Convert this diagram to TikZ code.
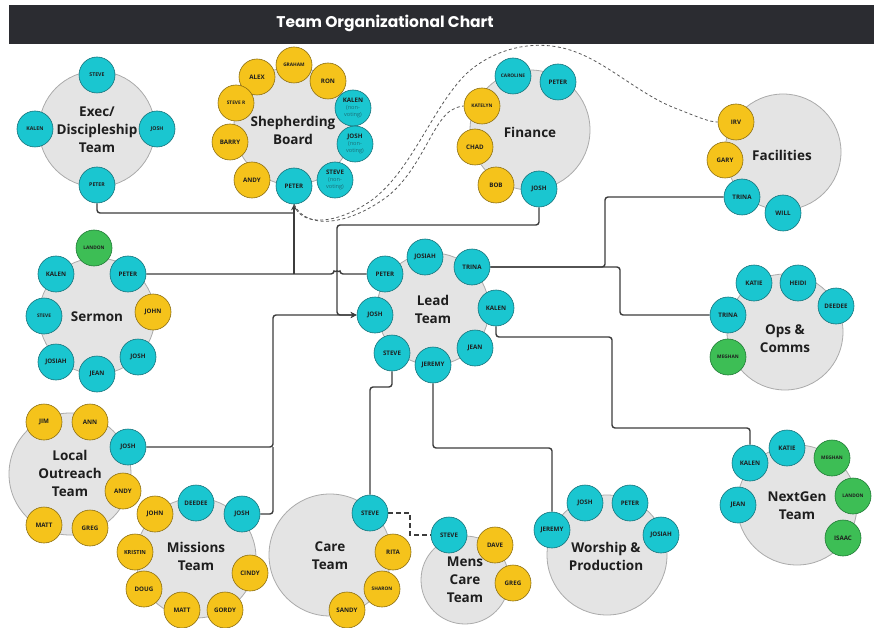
\documentclass[tikz,border=0pt]{standalone}
\usepackage{fontspec}
\setmainfont{Open Sans}
\newfontfamily\titlefont{Poppins}
\usetikzlibrary{arrows.meta}
\definecolor{barc}{HTML}{2B2C31}
\definecolor{teamfill}{HTML}{E4E4E4}
\definecolor{teamedge}{HTML}{ABABAB}
\definecolor{cyf}{HTML}{1AC6D0}
\definecolor{cyd}{HTML}{16727A}
\definecolor{yef}{HTML}{F5C31B}
\definecolor{yed}{HTML}{8C6E12}
\definecolor{grf}{HTML}{3DBE55}
\definecolor{grd}{HTML}{1F7A35}
\definecolor{linec}{HTML}{3C3C3C}
\definecolor{nvc}{HTML}{1B6F77}
\definecolor{txt}{HTML}{1E1E1E}
\pgfdeclarelayer{bgl}
\pgfdeclarelayer{teams}
\pgfdeclarelayer{lines}
\pgfsetlayers{bgl,teams,lines,main}
\newcommand{\nv}{\normalfont\fontsize{5.6}{7}\selectfont\color{nvc}}
\tikzset{
  team/.style={circle, fill=teamfill, draw=teamedge, line width=0.8pt, inner sep=0pt, minimum size=#1},
  tlabel/.style={font=\bfseries\fontsize{13.5}{18}\selectfont, text=txt, align=center, inner sep=0pt},
  pp/.style={circle, minimum size=36pt, inner sep=0pt, line width=0.6pt, text=txt,
             font=\bfseries\fontsize{6.2}{7.2}\selectfont, align=center},
  cy/.style={pp, fill=cyf, draw=cyd},
  ye/.style={pp, fill=yef, draw=yed},
  gr/.style={pp, fill=grf, draw=grd},
  sm/.style={font=\bfseries\fontsize{4.8}{6}\selectfont},
  conn/.style={draw=linec, line width=1.4pt, rounded corners=3pt},
  arr/.style={-{Stealth[length=6pt,width=6pt]}},
  dsh/.style={draw=linec!85, line width=0.8pt, dash pattern=on 3pt off 2.5pt},
  dsh2/.style={draw=linec, line width=1.3pt, dash pattern=on 4.5pt off 3.5pt}
}
\begin{document}
\begin{tikzpicture}[x=1pt,y=-1pt]
\useasboundingbox (0,0) rectangle (874,628);
\begin{pgfonlayer}{bgl}
\fill[white] (0,0) rectangle (874,628);
\end{pgfonlayer}
% title bar
\node[fill=barc, minimum width=865pt, minimum height=39pt, inner sep=0pt, anchor=north west] (bar) at (9,5) {};
\node[text=white, font=\titlefont\bfseries\fontsize{15.5}{18}\selectfont] (title) at (385,23) {Team Organizational Chart};

% team circles
\begin{pgfonlayer}{teams}
\node[team=116pt] (exec) at (97,129) {};
\node[team=118pt] (shep) at (293,126) {};
\node[team=120pt] (fin) at (530,130) {};
\node[team=116pt] (fac) at (783,152) {};
\node[team=116pt] (serm) at (97,316) {};
\node[team=112pt] (lead) at (433,309) {};
\node[team=116pt] (ops) at (785,332) {};
\node[team=122pt] (lout) at (70,474) {};
\node[team=120pt] (miss) at (196,558) {};
\node[team=122pt] (care) at (330,555) {};
\node[team=88pt] (mens) at (465,580) {};
\node[team=120pt] (wors) at (607,555) {};
\node[team=120pt] (nextg) at (797,505) {};
\end{pgfonlayer}

% team labels
\node[tlabel] (execL) at (97,130) {Exec/\\Discipleship\\Team};
\node[tlabel] (shepL) at (293,130) {Shepherding\\Board};
\node[tlabel] (finL) at (530,132) {Finance};
\node[tlabel] (facL) at (782,155) {Facilities};
\node[tlabel] (sermL) at (97,317) {Sermon};
\node[tlabel] (leadL) at (433,309) {Lead\\Team};
\node[tlabel] (opsL) at (785,339) {Ops \&\\Comms};
\node[tlabel] (loutL) at (70,473) {Local\\Outreach\\Team};
\node[tlabel] (missL) at (196,556) {Missions\\Team};
\node[tlabel] (careL) at (330,556) {Care\\Team};
\node[tlabel] (mensL) at (465,580) {Mens\\Care\\Team};
\node[tlabel] (worsL) at (606,556) {Worship \&\\Production};
\node[tlabel] (nextgL) at (797,506) {NextGen\\Team};

% Exec
\node[cy] (exSteve) at (97,75) {\fontsize{5.2}{6}\selectfont STEVE};
\node[cy] (exKalen) at (35,129) {\fontsize{5.2}{6}\selectfont KALEN};
\node[cy] (exJosh) at (157,129) {\fontsize{5.2}{6}\selectfont JOSH};
\node[cy] (exPeter) at (97,185) {\fontsize{5.2}{6}\selectfont PETER};
% Shepherding
\node[ye,sm] (spGraham) at (294,65) {GRAHAM};
\node[ye] (spAlex) at (257,77) {ALEX};
\node[ye] (spRon) at (328,81) {RON};
\node[ye,sm] (spSteveR) at (236,103) {STEVE R};
\node[cy] (spKalen) at (353,108) {KALEN\\{\nv(non-}\\{\nv voting)}};
\node[ye] (spBarry) at (230,142) {BARRY};
\node[cy] (spJosh) at (355,144) {JOSH\\{\nv(non-}\\{\nv voting)}};
\node[ye] (spAndy) at (252,180) {ANDY};
\node[cy] (spPeter) at (294,186) {PETER};
\node[cy] (spSteve) at (335,180) {STEVE\\{\nv(non-}\\{\nv voting)}};
% Finance
\node[cy,sm] (fiCaroline) at (513,76) {CAROLINE};
\node[cy] (fiPeter) at (558,82) {PETER};
\node[ye,sm] (fiKatelyn) at (482,106) {KATELYN};
\node[ye] (fiChad) at (475,147) {CHAD};
\node[ye] (fiBob) at (496,185) {BOB};
\node[cy] (fiJosh) at (539,189) {JOSH};
% Facilities
\node[ye] (faIrv) at (736,122) {IRV};
\node[ye] (faGary) at (725,160) {GARY};
\node[cy] (faTrina) at (742,197) {TRINA};
\node[cy] (faWill) at (783,213) {WILL};
% Sermon
\node[gr,sm] (seLandon) at (94,248) {LANDON};
\node[cy] (seKalen) at (56,274) {KALEN};
\node[cy] (sePeter) at (128,274) {PETER};
\node[cy,sm] (seSteve) at (44,316) {STEVE};
\node[ye] (seJohn) at (153,312) {JOHN};
\node[cy] (seJosiah) at (56,362) {JOSIAH};
\node[cy] (seJean) at (97,374) {JEAN};
\node[cy] (seJosh) at (138,357) {JOSH};
% Lead
\node[cy] (ldJosiah) at (425,257) {JOSIAH};
\node[cy] (ldPeter) at (385,274) {PETER};
\node[cy] (ldTrina) at (472,267) {TRINA};
\node[cy] (ldKalen) at (496,308) {KALEN};
\node[cy] (ldJosh) at (375,315) {JOSH};
\node[cy] (ldSteve) at (392,353) {STEVE};
\node[cy] (ldJeremy) at (433,365) {JEREMY};
\node[cy] (ldJean) at (475,348) {JEAN};
% Ops
\node[cy] (opKatie) at (754,283) {KATIE};
\node[cy] (opHeidi) at (798,283) {HEIDI};
\node[cy] (opDeedee) at (836,306) {DEEDEE};
\node[cy] (opTrina) at (728,315) {TRINA};
\node[gr,sm] (opMeghan) at (728,357) {MEGHAN};
% Local outreach
\node[ye] (loJim) at (44,422) {JIM};
\node[ye] (loAnn) at (90,422) {ANN};
\node[cy] (loJosh) at (128,447) {JOSH};
\node[ye] (loAndy) at (123,491) {ANDY};
\node[ye] (loMatt) at (44,525) {MATT};
\node[ye] (loGreg) at (90,528) {GREG};
% Missions
\node[ye] (miJohn) at (155,514) {JOHN};
\node[cy] (miDeedee) at (196,503) {DEEDEE};
\node[cy] (miJosh) at (242,514) {JOSH};
\node[ye] (miKristin) at (135,552) {\fontsize{5.6}{6}\selectfont KRISTIN};
\node[ye] (miCindy) at (250,573) {CINDY};
\node[ye] (miDoug) at (144,589) {DOUG};
\node[ye] (miMatt) at (182,610) {MATT};
\node[ye] (miGordy) at (225,610) {GORDY};
% Care
\node[cy] (caSteve) at (370,513) {STEVE};
\node[ye] (caRita) at (393,552) {RITA};
\node[ye,sm] (caSharon) at (382,589) {SHARON};
\node[ye] (caSandy) at (347,610) {SANDY};
% Mens care
\node[cy] (mcSteve) at (449,535) {STEVE};
\node[ye] (mcDave) at (495,545) {DAVE};
\node[ye] (mcGreg) at (513,583) {GREG};
% Worship
\node[cy] (woJeremy) at (552,530) {JEREMY};
\node[cy] (woJosh) at (585,503) {JOSH};
\node[cy] (woPeter) at (630,503) {PETER};
\node[cy] (woJosiah) at (661,535) {JOSIAH};
% NextGen
\node[cy] (ngKatie) at (787,448) {KATIE};
\node[cy] (ngKalen) at (750,463) {KALEN};
\node[gr,sm] (ngMeghan) at (832,458) {MEGHAN};
\node[gr,sm] (ngLandon) at (853,496) {LANDON};
\node[cy] (ngJean) at (738,505) {JEAN};
\node[gr] (ngIsaac) at (843,538) {ISAAC};

% connectors
\begin{pgfonlayer}{lines}
\coordinate (jSp) at (spPeter.south |- sePeter.east);
\draw[conn] (exPeter.south) |- (jSp |- 0,213);
\draw[conn] (sePeter.east) -- (334,274) arc[start angle=180, end angle=360, radius=3] -- (ldPeter.west);
\draw[conn,arr] (jSp) -- (spPeter.south);
\draw[conn,arr] (fiJosh.south) |- (337,225) |- (ldJosh.west);
\draw[conn,arr] (loJosh.east) -| (273,315) -- (ldJosh.west);
\draw[conn] (miJosh.east) -| (273,447);
\draw[conn] (ldTrina.east) -- (605,267) |- (faTrina.west);
\draw[conn] (ldTrina.east) -- (620,267) |- (opTrina.west);
\draw[conn] (ldKalen.south) |- (612,337) |- (ngKalen.north |- 0,428) -- (ngKalen.north);
\draw[conn] (ldSteve.south) |- (caSteve.north |- 0,387) -- (caSteve.north);
\draw[conn] (ldJeremy.south) |- (woJeremy.north |- 0,448) -- (woJeremy.north);
\draw[dsh2] (caSteve.east) -- (410,513) |- (mcSteve.west);
\draw[dsh] (spPeter.south) .. controls (300,226) and (335,226) .. (372,200)
   .. controls (412,170) and (432,108) .. (466,74)
   .. controls (492,50) and (532,38) .. (570,50)
   .. controls (608,62) and (640,96) .. (680,110)
   .. controls (700,118) and (710,122) .. (faIrv.west);
\draw[dsh] (spPeter.south) .. controls (306,230) and (348,226) .. (388,196)
   .. controls (420,170) and (432,124) .. (450,111)
   .. controls (455,108) and (460,106) .. (fiKatelyn.west);
\end{pgfonlayer}
\end{tikzpicture}
\end{document}
